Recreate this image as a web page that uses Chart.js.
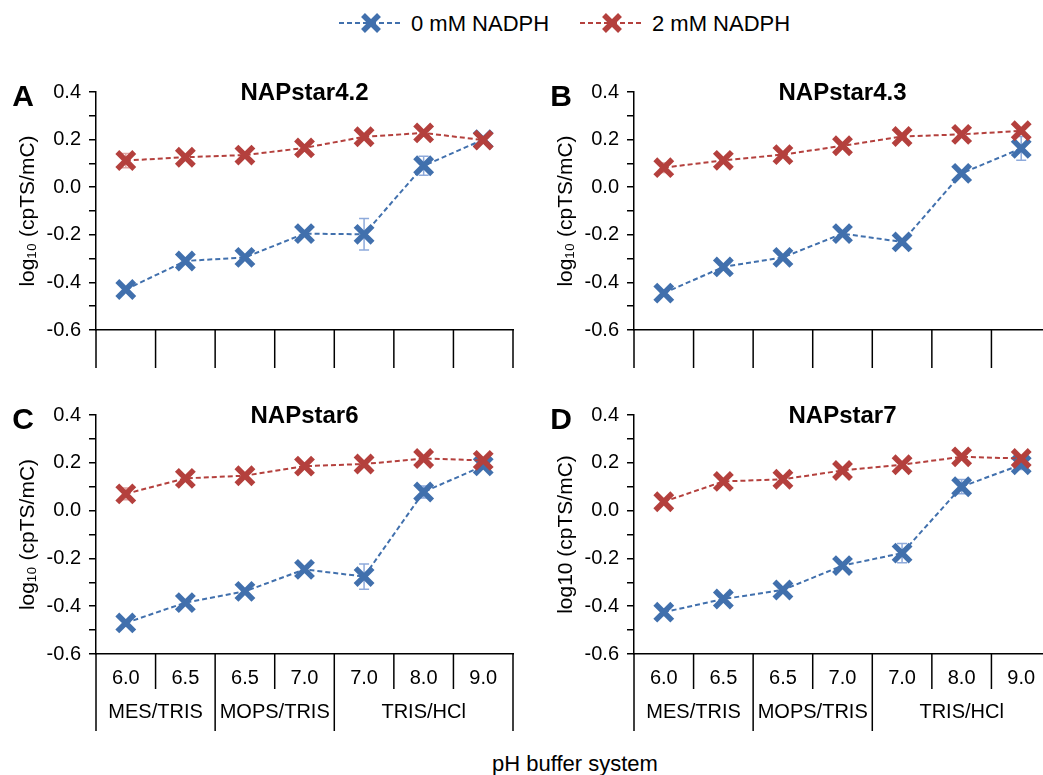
<!DOCTYPE html>
<html>
<head>
<meta charset="utf-8">
<script src="https://cdn.jsdelivr.net/npm/chart.js@4.4.1/dist/chart.umd.min.js"></script>
<style>
  html, body { margin: 0; padding: 0; background: #fff; overflow: hidden; }
  body { width: 1043px; height: 775px; position: relative; font-family: "Liberation Sans", Arial, sans-serif; color: #000; }
  canvas { position: absolute; }
  .legend-item { position: absolute; top: 12px; font-size: 22px; line-height: 22px; white-space: nowrap; }
  .legend-item svg { vertical-align: -3px; margin-right: 6px; }
  #xtitle { position: absolute; left: 492px; top: 753px; font-size: 22px; line-height: 22px; white-space: nowrap; }
</style>
</head>
<body>
<div class="legend-item" style="left:339px"><svg width="66" height="22"><line x1="0" y1="11" x2="64" y2="11" stroke="#4170AD" stroke-width="2" stroke-dasharray="5,3"/><path d="M24 3L40 19M40 3L24 19" stroke="#4170AD" stroke-width="5.5"/></svg>0 mM NADPH</div>
<div class="legend-item" style="left:580px"><svg width="66" height="22"><line x1="0" y1="11" x2="64" y2="11" stroke="#B4403D" stroke-width="2" stroke-dasharray="5,3"/><path d="M24 3L40 19M40 3L24 19" stroke="#B4403D" stroke-width="5.5"/></svg>2 mM NADPH</div>

<canvas id="panelA" width="520" height="320" style="left:0;top:60px"></canvas>
<canvas id="panelB" width="520" height="320" style="left:538px;top:60px"></canvas>
<canvas id="panelC" width="520" height="357" style="left:0;top:383px"></canvas>
<canvas id="panelD" width="520" height="357" style="left:538px;top:383px"></canvas>

<div id="xtitle">pH buffer system</div>

<script>
Chart.defaults.font.family = "'Liberation Sans', Arial, sans-serif";
Chart.defaults.color = '#000';

// pH of each buffer and how many pH points each buffer covers
const phLabels = ['6.0', '6.5', '6.5', '7.0', '7.0', '8.0', '9.0'];
const bufferNames = ['MES/TRIS', 'MOPS/TRIS', 'TRIS/HCl'];
const bufferSpans = [2, 2, 3];

// log10(cpTS/mC), mean and error, per sensor
const a0 = [-0.43, -0.31, -0.295, -0.195, -0.198, 0.09, 0.2];
const a0Err = [0, 0, 0, 0, 0.066, 0.04, 0];
const a2 = [0.112, 0.126, 0.135, 0.165, 0.212, 0.228, 0.198];
const a2Err = [0.03, 0, 0, 0, 0, 0, 0];

const b0 = [-0.445, -0.335, -0.295, -0.195, -0.23, 0.058, 0.163];
const b0Err = [0, 0, 0, 0, 0, 0, 0.05];
const b2 = [0.082, 0.113, 0.137, 0.174, 0.213, 0.222, 0.237];
const b2Err = [0.02, 0, 0, 0, 0, 0, 0];

const c0 = [-0.47, -0.385, -0.338, -0.246, -0.276, 0.078, 0.187];
const c0Err = [0, 0, 0, 0, 0.053, 0.025, 0];
const c2 = [0.07, 0.135, 0.146, 0.186, 0.195, 0.218, 0.21];
const c2Err = [0.025, 0, 0, 0, 0, 0, 0];

const d0 = [-0.425, -0.37, -0.332, -0.23, -0.178, 0.1, 0.192];
const d0Err = [0, 0, 0, 0, 0.04, 0.03, 0.02];
const d2 = [0.037, 0.122, 0.131, 0.168, 0.192, 0.225, 0.218];
const d2Err = [0, 0, 0, 0, 0, 0, 0];

const blue = '#4170AD', red = '#B4403D';
const blueErr = '#8EAADB', redErr = '#DFA3A1';

// vertical error bars with caps, under the markers
const errorBars = {
  id: 'errorBars',
  beforeDatasetsDraw(chart) {
    const { ctx, scales: { y } } = chart;
    chart.data.datasets.forEach((ds, i) => {
      if (!ds.errors) return;
      const meta = chart.getDatasetMeta(i);
      ctx.save();
      ctx.strokeStyle = ds.errorColor;
      ctx.lineWidth = 1.5;
      meta.data.forEach((pt, j) => {
        const e = ds.errors[j];
        if (!e) return;
        const top = y.getPixelForValue(ds.data[j] + e);
        const bot = y.getPixelForValue(ds.data[j] - e);
        ctx.beginPath();
        ctx.moveTo(pt.x, top); ctx.lineTo(pt.x, bot);
        ctx.moveTo(pt.x - 5, top); ctx.lineTo(pt.x + 5, top);
        ctx.moveTo(pt.x - 5, bot); ctx.lineTo(pt.x + 5, bot);
        ctx.stroke();
      });
      ctx.restore();
    });
  }
};

// category separators under the x axis, plus buffer names on the labelled panels
const bufferAxis = {
  id: 'bufferAxis',
  afterDraw(chart, args, opts) {
    const { ctx, chartArea, scales: { x } } = chart;
    const y0 = chartArea.bottom;
    const edges = [0];
    bufferSpans.forEach(s => edges.push(edges[edges.length - 1] + s));
    ctx.save();
    ctx.strokeStyle = '#000';
    ctx.lineWidth = 1.5;
    for (let k = 0; k <= phLabels.length; k++) {
      const px = x.getPixelForValue(k - 0.5);
      const len = opts.groups && edges.includes(k) ? 77 : opts.tick;
      ctx.beginPath();
      ctx.moveTo(px, y0);
      ctx.lineTo(px, y0 + len);
      ctx.stroke();
    }
    if (opts.groups) {
      ctx.fillStyle = '#000';
      ctx.font = "20px 'Liberation Sans', Arial, sans-serif";
      ctx.textAlign = 'center';
      ctx.textBaseline = 'middle';
      bufferNames.forEach((name, g) => {
        const mid = x.getPixelForValue((edges[g] + edges[g + 1]) / 2 - 0.5);
        ctx.fillText(name, mid, y0 + 58);
      });
    }
    ctx.restore();
  }
};

// panel letter and sensor name
const panelText = {
  id: 'panelText',
  afterDraw(chart, args, opts) {
    const { ctx, chartArea } = chart;
    ctx.save();
    ctx.fillStyle = '#000';
    ctx.textAlign = 'center';
    ctx.textBaseline = 'middle';
    ctx.font = "bold 24px 'Liberation Sans', Arial, sans-serif";
    ctx.fillText(opts.title, (chartArea.left + chartArea.right) / 2, chartArea.top + 1);
    ctx.font = "bold 30px 'Liberation Sans', Arial, sans-serif";
    ctx.fillText(opts.letter, chartArea.left - 73, chartArea.top + 6);
    ctx.restore();
  }
};

function makePanel(id, letter, title, yTitle, zero, zeroErr, two, twoErr, bottom) {
  const line = (label, data, errors, color, errColor, order) => ({
    label, data, errors, errorColor: errColor, order,
    borderColor: color,
    borderWidth: 2,
    borderDash: [5, 3],
    pointStyle: 'crossRot',
    pointRadius: 12,
    pointBorderWidth: 5.5,
    pointBorderColor: color,
    pointBackgroundColor: color,
    tension: 0,
    clip: false
  });

  return new Chart(document.getElementById(id), {
    type: 'line',
    data: {
      labels: phLabels,
      datasets: [
        line('0 mM NADPH', zero, zeroErr, blue, blueErr, 1),
        line('2 mM NADPH', two, twoErr, red, redErr, 0)
      ]
    },
    options: {
      responsive: false,
      animation: false,
      layout: { autoPadding: false, padding: { top: 32, right: 7, left: 0, bottom: 0 } },
      plugins: {
        legend: { display: false },
        tooltip: { enabled: false },
        panelText: { letter, title },
        bufferAxis: { groups: bottom, tick: bottom ? 35 : 38 }
      },
      scales: {
        x: {
          offset: true,
          grid: { display: false, drawTicks: false },
          border: { color: '#000', width: 1.5 },
          ticks: { display: bottom, autoSkip: false, maxRotation: 0, padding: 12, font: { size: 20 } },
          afterFit: s => {
            s.height = bottom ? 86 : 50;
            s.paddingLeft = 0;
            s.paddingRight = 0;
          }
        },
        y: {
          min: -0.6,
          max: 0.4,
          grid: { drawOnChartArea: false, tickLength: 7, color: '#000', lineWidth: 1.5 },
          border: { color: '#000', width: 1.5 },
          ticks: {
            stepSize: 0.1,
            autoSkip: false,
            padding: 8,
            font: { size: 20 },
            callback: v => Math.round(v * 10) % 2 === 0 ? (Math.abs(v) < 1e-9 ? 0 : v).toFixed(1) : ''
          },
          title: { display: true, text: yTitle, font: { size: 21 }, padding: { top: 16 } },
          afterFit: s => { s.width = 96; }
        }
      }
    },
    plugins: [errorBars, bufferAxis, panelText]
  });
}

makePanel('panelA', 'A', 'NAPstar4.2', 'log₁₀ (cpTS/mC)', a0, a0Err, a2, a2Err, false);
makePanel('panelB', 'B', 'NAPstar4.3', 'log₁₀ (cpTS/mC)', b0, b0Err, b2, b2Err, false);
makePanel('panelC', 'C', 'NAPstar6', 'log₁₀ (cpTS/mC)', c0, c0Err, c2, c2Err, true);
makePanel('panelD', 'D', 'NAPstar7', 'log10 (cpTS/mC)', d0, d0Err, d2, d2Err, true);
</script>
</body>
</html>
